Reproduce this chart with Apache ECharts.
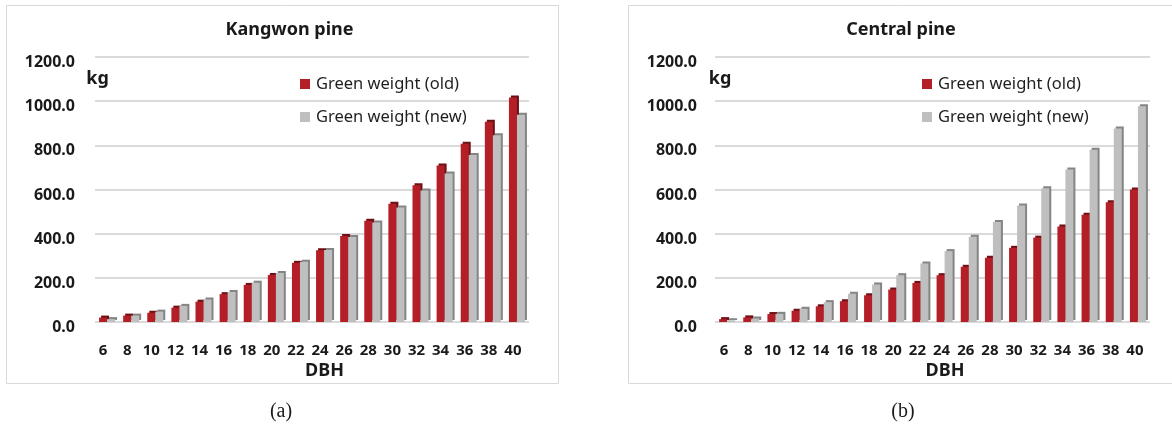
<!DOCTYPE html>
<html>
<head>
<meta charset="utf-8">
<script src="https://cdn.jsdelivr.net/npm/echarts@6/dist/echarts.min.js"></script>
<style>
html,body{margin:0;padding:0;background:#fff;}
#chart{width:1172px;height:425px;}
</style>
</head>
<body>
<div id="chart"></div>
<script>
const dbh = ['6','8','10','12','14','16','18','20','22','24','26','28','30','32','34','36','38','40'];
const yTicks = [0, 200, 400, 600, 800, 1000, 1200];
const kangwonOld = [20, 29, 42, 65, 92, 126, 168, 213, 268, 325, 389, 459, 536, 619, 709, 807, 907, 1017];
const kangwonNew = [13, 29, 47, 73, 102, 136, 178, 222, 273, 326, 385, 451, 519, 595, 672, 756, 846, 938];
const centralOld = [13, 21, 36, 51, 71, 94, 121, 147, 177, 212, 250, 291, 336, 382, 433, 486, 542, 600];
const centralNew = [8, 16, 37, 60, 90, 128, 170, 212, 265, 321, 386, 453, 528, 606, 691, 780, 876, 977];
const seriesNames = ['Green weight (old)', 'Green weight (new)'];
const chartTitles = ['Kangwon pine', 'Central pine'];
const captions = ['(a)', '(b)'];

const RED = '#B41E27', RED_DARK = '#6F1016';
const GREY = '#BFBFBF', GREY_DARK = '#858585';
const TXT = '#1a1a1a';
const SANS = '"Noto Sans", "DejaVu Sans", sans-serif';

const chart = echarts.init(document.getElementById('chart'), null, {renderer: 'canvas'});

function yAxis(idx, margin) {
  return {
    type: 'value', gridIndex: idx, min: yTicks[0], max: yTicks[yTicks.length - 1], interval: yTicks[1] - yTicks[0],
    axisLine: {show: false}, axisTick: {show: false},
    axisLabel: {formatter: v => v.toFixed(1), fontFamily: SANS, fontWeight: 'bold', fontSize: 16, color: TXT, margin: margin, verticalAlign: 'top', lineHeight: 11},
    splitLine: {lineStyle: {color: '#DADADA', width: 2}}
  };
}
function xAxis(idx, shift) {
  return {
    type: 'category', gridIndex: idx, data: dbh,
    axisLine: {show: false}, axisTick: {show: false},
    axisLabel: {fontFamily: SANS, fontWeight: 'bold', fontSize: 15, color: TXT, margin: 21, interval: 0, padding: [0, shift, 0, 0]}
  };
}
function bar(name, idx, data, color, dark) {
  return {
    type: 'bar', name: name, xAxisIndex: idx, yAxisIndex: idx, data: data,
    barWidth: 8, barGap: '0%',
    itemStyle: {color: color, shadowColor: dark, shadowOffsetX: 2, shadowOffsetY: -2, shadowBlur: 0},
    emphasis: {disabled: true}, animation: false
  };
}
function legend(left) {
  return {
    data: seriesNames, orient: 'vertical', left: left, top: 74, padding: 0,
    itemWidth: 10, itemHeight: 10, itemGap: 13, icon: 'rect',
    textStyle: {fontFamily: SANS, fontSize: 16.5, color: '#1f1f1f', lineHeight: 20, padding: [0, 0, 0, 1]},
    selectedMode: false
  };
}
function txt(text, x, y, font, size, weight) {
  return {type: 'text', silent: true, style: {text: text, x: x, y: y, textAlign: 'center', textVerticalAlign: 'middle', align: 'center', verticalAlign: 'middle', fontFamily: font, fontSize: size, fontWeight: weight, fill: TXT}};
}

chart.setOption({
  backgroundColor: '#fff',
  animation: false,
  grid: [
    {left: 95, width: 434, top: 57, bottom: 103, containLabel: false},
    {left: 715, width: 435, top: 57, bottom: 103, containLabel: false}
  ],
  xAxis: [xAxis(0, 8), xAxis(1, 6)],
  yAxis: [yAxis(0, 20), yAxis(1, 18)],
  legend: [legend(300), legend(922)],
  series: [
    bar(seriesNames[0], 0, kangwonOld, RED, RED_DARK),
    bar(seriesNames[1], 0, kangwonNew, GREY, GREY_DARK),
    bar(seriesNames[0], 1, centralOld, RED, RED_DARK),
    bar(seriesNames[1], 1, centralNew, GREY, GREY_DARK)
  ],
  graphic: [
    {type: 'rect', silent: true, z: -10, shape: {x: 6.5, y: 5.5, width: 552, height: 378}, style: {fill: 'none', stroke: '#D9D9D9', lineWidth: 1}},
    {type: 'rect', silent: true, z: -10, shape: {x: 628.5, y: 5.5, width: 560, height: 378}, style: {fill: 'none', stroke: '#D9D9D9', lineWidth: 1}},
    txt(chartTitles[0], 289.5, 30, SANS, 18, 'bold'),
    txt(chartTitles[1], 901, 30, SANS, 18, 'bold'),
    txt('kg', 97.5, 79, SANS, 18, 'bold'),
    txt('kg', 720, 79, SANS, 18, 'bold'),
    txt('DBH', 324.5, 371, SANS, 18, 'bold'),
    txt('DBH', 945, 371, SANS, 18, 'bold'),
    txt(captions[0], 281, 412, '"Liberation Serif", "DejaVu Serif", serif', 20, 'normal'),
    txt(captions[1], 903, 412, '"Liberation Serif", "DejaVu Serif", serif', 20, 'normal')
  ]
});
</script>
</body>
</html>
